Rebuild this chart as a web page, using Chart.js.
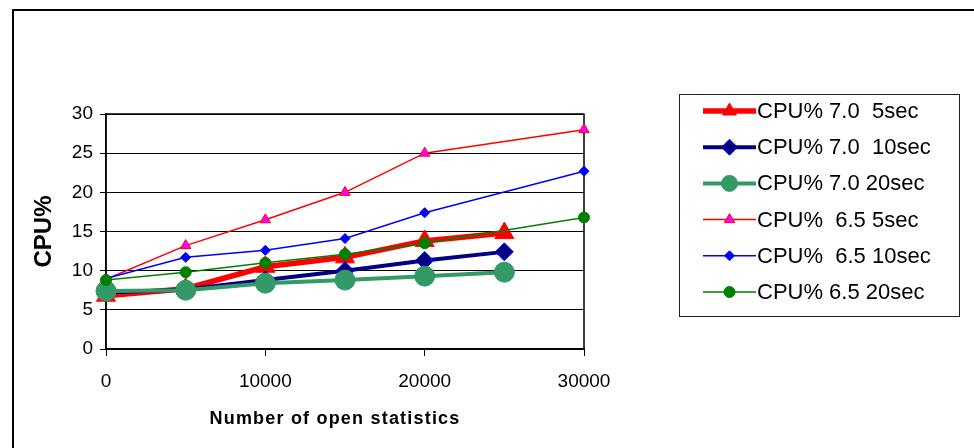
<!DOCTYPE html>
<html>
<head>
<meta charset="utf-8">
<script src="https://cdn.jsdelivr.net/npm/chart.js@4/dist/chart.umd.min.js"></script>
<style>
  body { margin: 0; background: #fff; }
  canvas { display: block; }
</style>
</head>
<body>
<canvas id="cpuChart" width="974" height="448"></canvas>
<script>
// Data
const stats70 = [0, 5000, 10000, 15000, 20000, 25000];
const stats65 = [0, 5000, 10000, 15000, 20000, 30000];

const cpu70_5 = [6.8, 7.7, 10.5, 11.7, 13.8, 14.8];
const cpu70_10 = [7.2, 7.6, 8.8, 10.0, 11.3, 12.4];
const cpu70_20 = [7.4, 7.5, 8.4, 8.8, 9.3, 9.8];
const cpu65_5 = [8.9, 13.2, 16.5, 20.0, 25.0, 28.0];
const cpu65_10 = [9.0, 11.7, 12.6, 14.1, 17.4, 22.7];
const cpu65_20 = [8.8, 9.8, 11.0, 12.1, 13.5, 16.8];

const seriesNames = [
  "CPU% 7.0  5sec",
  "CPU% 7.0  10sec",
  "CPU% 7.0 20sec",
  "CPU%  6.5 5sec",
  "CPU%  6.5 10sec",
  "CPU% 6.5 20sec",
];

const xTicks = [0, 10000, 20000, 30000];
const yTicks = [0, 5, 10, 15, 20, 25, 30];
const xTitle = "Number of open statistics";

function toPoints(xs, ys) {
  return xs.map((x, i) => ({ x: x, y: ys[i] }));
}

const styles = [
  { color: "#ff0000", width: 5.5, style: "triangle", radius: 11, fill: "#ff0000", edge: "#ff0000" },
  { color: "#000080", width: 4, style: "rectRot", radius: 9, fill: "#000080", edge: "#0000ff" },
  { color: "#339966", width: 4, style: "circle", radius: 10, fill: "#339966", edge: "#339966" },
  { color: "#ff0000", width: 1.5, style: "triangle", radius: 6, fill: "#ff00ff", edge: "#ff0000" },
  { color: "#0000ff", width: 1.5, style: "rectRot", radius: 5, fill: "#0000ff", edge: "#0000ff" },
  { color: "#008000", width: 1.5, style: "circle", radius: 5.5, fill: "#008000", edge: "#008000" },
];

const allData = [
  toPoints(stats70, cpu70_5),
  toPoints(stats70, cpu70_10),
  toPoints(stats70, cpu70_20),
  toPoints(stats65, cpu65_5),
  toPoints(stats65, cpu65_10),
  toPoints(stats65, cpu65_20),
];

const datasets = allData.map((pts, i) => ({
  label: seriesNames[i],
  data: pts,
  borderColor: styles[i].color,
  borderWidth: styles[i].width,
  pointStyle: styles[i].style,
  pointRadius: styles[i].radius,
  pointBackgroundColor: styles[i].fill,
  pointBorderColor: styles[i].edge,
  pointBorderWidth: 1,
  tension: 0,
  clip: false,
  order: 6 - i, // later series on top, like the original
}));

// outer frame + plot frame + spaced x title
const framePlugin = {
  id: "frames",
  beforeDraw(chart) {
    const c = chart.ctx;
    c.save();
    c.strokeStyle = "#000";
    c.lineWidth = 2;
    c.beginPath();
    c.moveTo(13, 460);
    c.lineTo(13, 10);
    c.lineTo(990, 10);
    c.stroke();
    c.restore();
  },
  beforeDatasetsDraw(chart) {
    const a = chart.chartArea;
    const c = chart.ctx;
    c.save();
    c.strokeStyle = "#000";
    c.lineWidth = 1.5;
    c.strokeRect(a.left, a.top, a.right - a.left, a.bottom - a.top);
    c.restore();
  },
  afterDraw(chart) {
    const c = chart.ctx;
    c.save();
    c.font = "bold 18px 'Liberation Sans', Arial, sans-serif";
    c.letterSpacing = "1.2px";
    c.fillStyle = "#000";
    c.textAlign = "center";
    c.textBaseline = "middle";
    c.fillText(xTitle, 335, 419);
    c.restore();
  },
};

// Excel-style legend box on the right
const legendPlugin = {
  id: "boxLegend",
  afterDraw(chart) {
    const c = chart.ctx;
    c.save();
    c.strokeStyle = "#222";
    c.lineWidth = 1;
    c.strokeRect(679.5, 94.5, 280, 222);
    c.font = "22px 'Liberation Sans', Arial, sans-serif";
    c.textBaseline = "middle";
    c.textAlign = "left";
    chart.data.datasets.forEach((ds, i) => {
      const y = 111 + i * 36.2;
      c.strokeStyle = ds.borderColor;
      c.lineWidth = ds.borderWidth;
      c.beginPath();
      c.moveTo(703, y);
      c.lineTo(756, y);
      c.stroke();
      c.fillStyle = ds.pointBackgroundColor;
      c.strokeStyle = ds.pointBorderColor;
      c.lineWidth = 1;
      Chart.helpers.drawPoint(c, {
        pointStyle: ds.pointStyle,
        radius: Math.min(ds.pointRadius, 8),
        rotation: 0,
        borderWidth: 1,
      }, 729.5, y);
      c.fillStyle = "#000";
      c.fillText(ds.label, 757, y + 1);
    });
    c.restore();
  },
};

const ctx = document.getElementById("cpuChart").getContext("2d");
const cpuChart = new Chart(ctx, {
  type: "line",
  data: { datasets: datasets },
  plugins: [framePlugin, legendPlugin],
  options: {
    responsive: false,
    animation: false,
    layout: { padding: { top: 114, right: 390, left: 0, bottom: 0 } },
    plugins: {
      legend: { display: false },
      tooltip: { enabled: false },
    },
    scales: {
      x: {
        type: "linear",
        min: 0,
        max: 30000,
        afterBuildTicks: (scale) => {
          scale.ticks = xTicks.map((v) => ({ value: v }));
        },
        afterFit: (scale) => {
          scale.height = 99;
        },
        ticks: {
          color: "#000",
          padding: 14,
          maxRotation: 0,
          callback: (v) => String(v),
          font: { family: "'Liberation Sans', Arial, sans-serif", size: 19 },
        },
        grid: {
          drawOnChartArea: false,
          drawTicks: true,
          tickLength: 7,
          color: "#000",
        },
        border: { color: "#000", width: 1.5 },
        title: { display: false },
      },
      y: {
        min: 0,
        max: 30,
        afterBuildTicks: (scale) => {
          scale.ticks = yTicks.map((v) => ({ value: v }));
        },
        afterFit: (scale) => {
          scale.width = 106;
        },
        ticks: {
          color: "#000",
          padding: 7,
          callback: (v) => String(v),
          font: { family: "'Liberation Sans', Arial, sans-serif", size: 19 },
        },
        grid: {
          color: "#000",
          lineWidth: 1,
          tickLength: 6,
        },
        border: { color: "#000", width: 1.5 },
        title: {
          display: true,
          text: "CPU%",
          color: "#000",
          padding: { top: 30, bottom: 0 },
          font: { family: "'Liberation Sans', Arial, sans-serif", size: 24, weight: "bold" },
        },
      },
    },
  },
});
</script>
</body>
</html>
